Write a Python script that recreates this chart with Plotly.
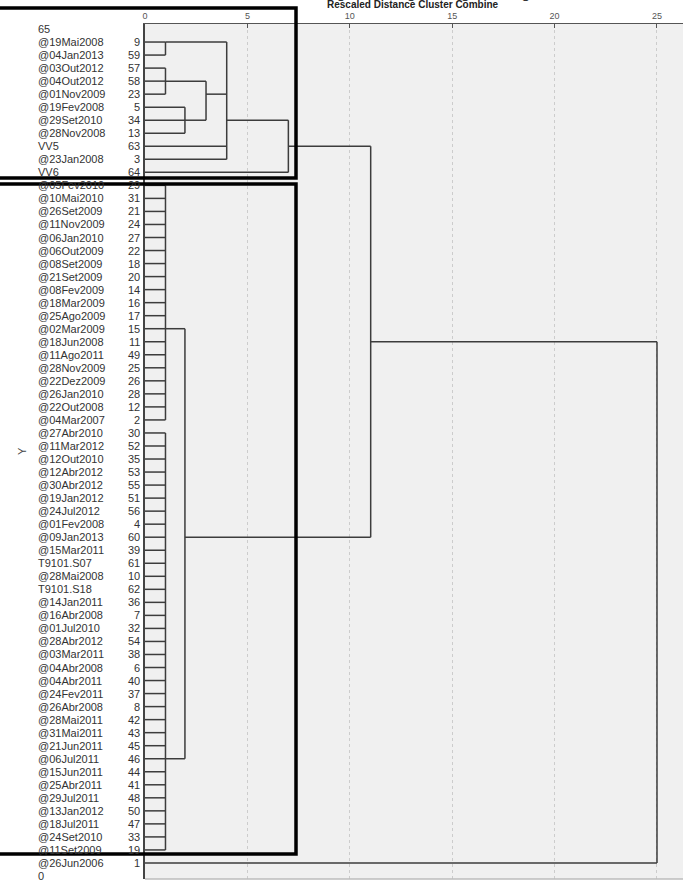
import plotly.graph_objects as go

# ---- data -------------------------------------------------------------
row_labels = ["65", "@19Mai2008", "@04Jan2013", "@03Out2012", "@04Out2012", "@01Nov2009",
              "@19Fev2008", "@29Set2010", "@28Nov2008", "VV5", "@23Jan2008", "VV6",
              "@05Fev2010", "@10Mai2010", "@26Set2009", "@11Nov2009", "@06Jan2010",
              "@06Out2009", "@08Set2009", "@21Set2009", "@08Fev2009", "@18Mar2009",
              "@25Ago2009", "@02Mar2009", "@18Jun2008", "@11Ago2011", "@28Nov2009",
              "@22Dez2009", "@26Jan2010", "@22Out2008", "@04Mar2007", "@27Abr2010",
              "@11Mar2012", "@12Out2010", "@12Abr2012", "@30Abr2012", "@19Jan2012",
              "@24Jul2012", "@01Fev2008", "@09Jan2013", "@15Mar2011", "T9101.S07",
              "@28Mai2008", "T9101.S18", "@14Jan2011", "@16Abr2008", "@01Jul2010",
              "@28Abr2012", "@03Mar2011", "@04Abr2008", "@04Abr2011", "@24Fev2011",
              "@26Abr2008", "@28Mai2011", "@31Mai2011", "@21Jun2011", "@06Jul2011",
              "@15Jun2011", "@25Abr2011", "@29Jul2011", "@13Jan2012", "@18Jul2011",
              "@24Set2010", "@11Set2009", "@26Jun2006", "0"]
case_numbers = ["", "9", "59", "57", "58", "23", "5", "34", "13", "63", "3", "64",
                "29", "31", "21", "24", "27", "22", "18", "20", "14", "16", "17", "15",
                "11", "49", "25", "26", "28", "12", "2", "30", "52", "35", "53", "55",
                "51", "56", "4", "60", "39", "61", "10", "62", "36", "7", "32", "54",
                "38", "6", "40", "37", "8", "42", "43", "45", "46", "44", "41", "48",
                "50", "47", "33", "19", "1", ""]

group_G = ["29", "31", "21", "24", "27", "22", "18", "20", "14", "16", "17", "15",
           "11", "49", "25", "26", "28", "12", "2"]
group_H = ["30", "52", "35", "53", "55", "51", "56", "4", "60", "39", "61", "10", "62",
           "36", "7", "32", "54", "38", "6", "40", "37", "8", "42", "43", "45", "46",
           "44", "41", "48", "50", "47", "33", "19"]

# merges: (name, children, rescaled distance, case whose row carries the joint)
merge_names = ["A", "B", "C", "D", "E", "F", "G", "H", "I", "J", "K"]
merge_children = [["9", "59"], ["57", "58", "23"], ["5", "34", "13"], ["B", "C"],
                  ["A", "D", "63", "3"], ["E", "64"], group_G, group_H, ["G", "H"],
                  ["F", "I"], ["J", "1"]]
merge_dist = [1.0, 1.0, 1.95, 2.98, 3.99, 7.0, 1.0, 1.0, 1.95, 11.02, 25.0]
merge_joint = ["9", "58", "34", "23", "34", "63", "15", "46", "60", "11", None]

x_ticks = [0, 5, 10, 15, 20, 25]

# ---- build dendrogram lines --------------------------------------------
row_of = {c: i for i, c in enumerate(case_numbers) if c}
node_row = dict(row_of)
node_dist = {c: 0.0 for c in row_of}
xs, ys = [], []
for name, kids, d, joint in zip(merge_names, merge_children, merge_dist, merge_joint):
    rows = []
    for k in kids:
        r = node_row[k]
        rows.append(r)
        xs += [node_dist[k], d, None]
        ys += [r, r, None]
    xs += [d, d, None]
    ys += [min(rows), max(rows), None]
    node_dist[name] = d
    node_row[name] = row_of[joint] if joint else None

fig = go.Figure()
fig.add_trace(go.Scatter(x=xs, y=ys, mode="lines",
                         line=dict(color="#3c3c3c", width=1.5),
                         hoverinfo="skip", showlegend=False))

W, H = 683, 895
L, R, T, B = 145, 0, 24, 16
pw, ph = W - L - R, H - T - B


def px(xp):
    return (xp - L) / pw


def py(yp):
    return (H - B - yp) / ph


font = "Liberation Sans, Arial, sans-serif"
ann = []
for i, (lab, num) in enumerate(zip(row_labels, case_numbers)):
    ann.append(dict(x=px(36), y=i, xref="paper", yref="y", text=lab, showarrow=False,
                    xanchor="left", yanchor="middle",
                    font=dict(family=font, size=11, color="#333")))
    if num:
        ann.append(dict(x=px(142), y=i, xref="paper", yref="y", text=num, showarrow=False,
                        xanchor="right", yanchor="middle",
                        font=dict(family=font, size=11, color="#333")))

ann.append(dict(x=px(413), y=py(11.5), xref="paper", yref="paper",
                text="<b>Rescaled Distance Cluster Combine</b>", showarrow=False,
                xanchor="center", yanchor="bottom",
                font=dict(family=font, size=10, color="#222")))
ann.append(dict(x=px(411), y=py(3), xref="paper", yref="paper",
                text="Dendrogram using Average Linkage", showarrow=False,
                xanchor="center", yanchor="bottom",
                font=dict(family=font, size=16, color="#333")))
ann.append(dict(x=px(22), y=py(451), xref="paper", yref="paper", text="Y",
                showarrow=False, textangle=-90, xanchor="center", yanchor="middle",
                font=dict(family=font, size=11, color="#444")))

shapes = [
    dict(type="line", xref="paper", yref="paper", x0=0, x1=1, y0=0, y1=0,
         line=dict(color="#bdbdbd", width=1.5)),
    dict(type="rect", xref="paper", yref="paper", x0=px(-5), x1=px(296),
         y0=py(178), y1=py(8), line=dict(color="black", width=3.5), layer="above"),
    dict(type="rect", xref="paper", yref="paper", x0=px(-5), x1=px(296),
         y0=py(854), y1=py(184), line=dict(color="black", width=3.5), layer="above"),
]

fig.update_layout(
    width=W, height=H, autosize=False,
    margin=dict(l=L, r=R, t=T, b=B, pad=0),
    paper_bgcolor="white", plot_bgcolor="#f0f0f0",
    annotations=ann, shapes=shapes, showlegend=False,
    xaxis=dict(side="top", range=[0, 26.27], tickvals=x_ticks,
               ticktext=[str(t) for t in x_ticks], ticks="inside", ticklen=4,
               tickcolor="#555", showline=True, linecolor="#555", linewidth=1.2,
               showgrid=True, gridcolor="#cccccc", griddash="dot", gridwidth=1,
               zeroline=False, tickfont=dict(family=font, size=9, color="#555")),
    yaxis=dict(range=[65.23, -0.384], showticklabels=False, showgrid=False,
               zeroline=False, showline=True, linecolor="#444", linewidth=1.5,
               ticks=""),
)

fig.write_html("out.html")
